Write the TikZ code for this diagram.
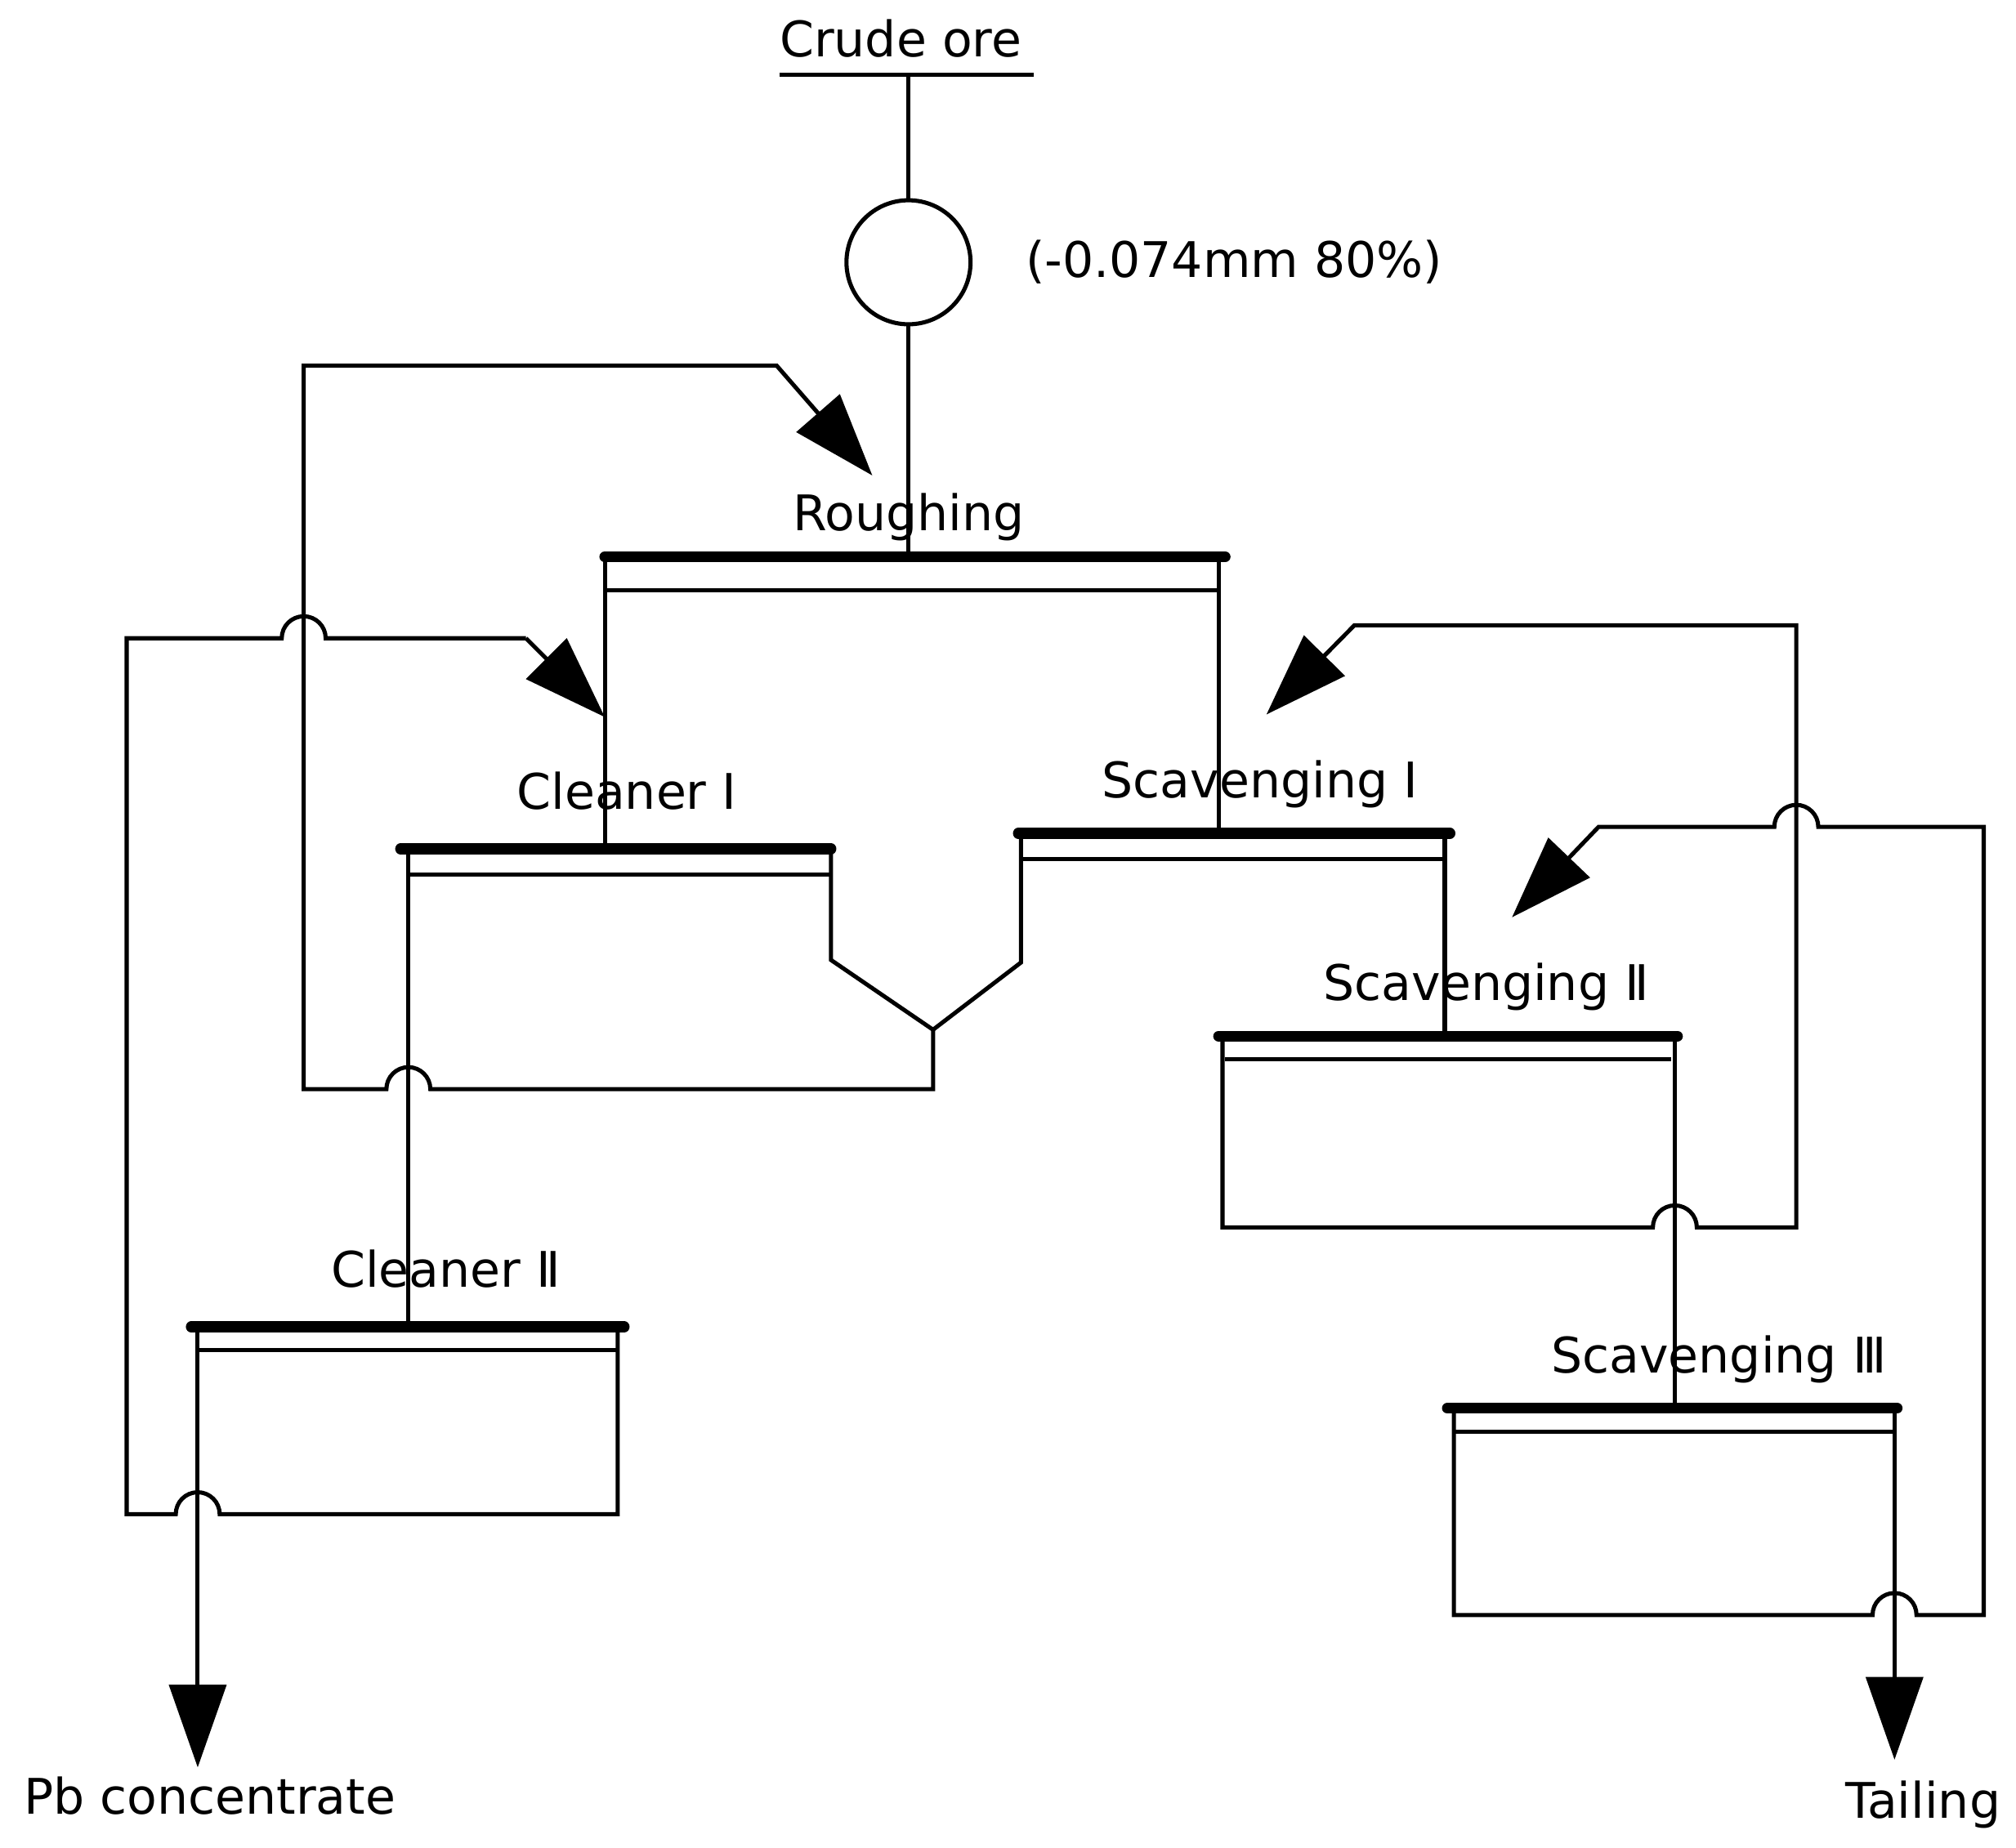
\documentclass[tikz,border=0pt]{standalone}
\usepackage{fontspec}
\setmainfont{DejaVu Sans}
\usetikzlibrary{arrows.meta}
\begin{document}
\begin{tikzpicture}[x=0.5pt,y=-0.5pt,
 ln/.style={line width=1.6pt},
 bar/.style={line width=4.2pt,line cap=round},
 arr/.style={ln,-{Triangle[length=32pt,width=22pt]}},
 lbl/.style={font=\fontsize{19}{22}\selectfont,inner sep=0pt}]
\useasboundingbox (0,0) rectangle (1560,1430);
% labels
\node[lbl] (crude) at (697,30) {Crude ore};
\node[lbl] (size) at (955,203) {(-0.074mm 80\%)};
\node[lbl] (rough) at (703,400) {Roughing};
\node[lbl] (c1) at (485,612) {Cleaner Ⅰ};
\node[lbl] (s1) at (975,607) {Scavenging Ⅰ};
\node[lbl] (s2) at (1150,764) {Scavenging Ⅱ};
\node[lbl] (c2) at (345,982) {Cleaner Ⅱ};
\node[lbl] (s3) at (1330,1052) {Scavenging Ⅲ};
\node[lbl,anchor=west] (pb) at (18,1390) {Pb concentrate};
\node[lbl] (tail) at (1488,1397) {Tailing};
% grinding
\draw[ln] (603,58) -- (800,58);
\node[circle,draw,line width=1.6pt,minimum size=48pt,inner sep=0pt] (mill) at (703,203) {};
\draw[ln] (703,58) -- (mill.north);
\draw[ln] (mill.south) -- (703,430);
% cells
\draw[bar] (468,431) -- (948,431);
\draw[ln] (468,457) -- (943,457);
\draw[ln] (468,431) -- (468,657);
\draw[ln] (943,431) -- (943,645);
\draw[bar] (310,657) -- (643,657);
\draw[ln] (316,677) -- (643,677);
\draw[bar] (788,645) -- (1122,645);
\draw[ln] (792,665) -- (1118,665);
\draw[ln] (1118,645) -- (1118,802);
\draw[ln] (643,657) -- (643,743) -- (722,797) -- (790,745) -- (790,645);
\draw[bar] (148,1027) -- (483,1027);
\draw[ln] (153,1045) -- (478,1045);
\draw[ln] (316,657) -- (316,1027);
\draw[bar] (943,802) -- (1298,802);
\draw[ln] (948,820) -- (1293,820);
\draw[bar] (1120,1090) -- (1468,1090);
\draw[ln] (1125,1108) -- (1465,1108);
\draw[ln] (1296,802) -- (1296,1090);
% Cleaner I tail loop back to roughing
\coordinate (r1) at (675,368);
\draw[arr] (722,797) -- (722,843) -- (333,843) arc (360:180:17) -- (235,843) -- (235,283) -- (601,283) -- (r1);
% Cleaner II box, tail back to Cleaner I
\coordinate (r2) at (468,555);
\draw[ln] (478,1027) -- (478,1172) -- (170,1172) arc (360:180:17) -- (98,1172) -- (98,494) -- (218,494) arc (180:360:17) -- (407,494);
\draw[arr] (407,494) -- (r2);
\draw[arr] (153,1027) -- (153,1368);
% Scavenging II box, tail back to Scavenging I
\coordinate (r3) at (980,553);
\draw[arr] (946,802) -- (946,950) -- (1279,950) arc (180:360:17) -- (1390,950) -- (1390,484) -- (1048,484) -- (r3);
% Scavenging III box, tail back to Scavenging II
\coordinate (r4) at (1170,710);
\draw[arr] (1125,1090) -- (1125,1250) -- (1449,1250) arc (180:360:17) -- (1535,1250) -- (1535,640) -- (1407,640) arc (360:180:17) -- (1237,640) -- (r4);
\draw[arr] (1466,1090) -- (1466,1362);
\end{tikzpicture}
\end{document}
